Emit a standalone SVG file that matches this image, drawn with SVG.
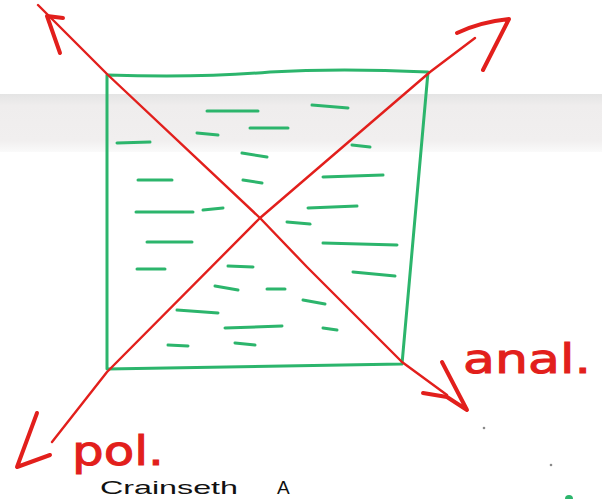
<svg xmlns="http://www.w3.org/2000/svg" width="602" height="499" viewBox="0 0 602 499">
  <defs>
    <linearGradient id="band" x1="0" y1="0" x2="0" y2="1">
      <stop offset="0" stop-color="#e4e4e4"/>
      <stop offset="0.2" stop-color="#efeded"/>
      <stop offset="0.8" stop-color="#f1efef"/>
      <stop offset="1" stop-color="#fafafa"/>
    </linearGradient>
    <style>
      .grn { fill: none; stroke: #2cb56c; stroke-width: 3; stroke-linecap: round; stroke-linejoin: round; }
      .dash { fill: none; stroke: #2cb56c; stroke-width: 3; stroke-linecap: round; }
      .red { fill: none; stroke: #e21f1c; stroke-width: 2.4; stroke-linecap: round; stroke-linejoin: round; }
      .head { fill: none; stroke: #e21f1c; stroke-width: 4; stroke-linecap: round; stroke-linejoin: round; }
      .lbl { font-family: "DejaVu Sans", "Liberation Sans", sans-serif; fill: #e21f1c; stroke: #e21f1c; stroke-width: 1; }
      .ink { font-family: "Liberation Sans", sans-serif; fill: #111; }
      .dot { fill: #8a8a8a; }
    </style>
  </defs>
  <rect x="0" y="0" width="602" height="499" fill="#ffffff"/>
  <rect x="0" y="94" width="602" height="58" fill="url(#band)"/>

  <g id="square">
    <path class="grn" d="M107,75 Q200,78 270,72 Q340,68 428,72 L402,364 Q250,366 107,369 Z"/>
    <g id="dashes">
      <path class="dash" d="M207,111 L258,111"/>
      <path class="dash" d="M312,105 L348,108"/>
      <path class="dash" d="M250,128 L288,128"/>
      <path class="dash" d="M197,133 L218,135"/>
      <path class="dash" d="M117,143 L150,142"/>
      <path class="dash" d="M352,145 L370,147"/>
      <path class="dash" d="M242,153 L267,157"/>
      <path class="dash" d="M138,180 L172,180"/>
      <path class="dash" d="M243,180 L262,183"/>
      <path class="dash" d="M323,177 L383,175"/>
      <path class="dash" d="M136,212 L193,212"/>
      <path class="dash" d="M203,210 L223,208"/>
      <path class="dash" d="M308,208 L357,206"/>
      <path class="dash" d="M287,222 L310,224"/>
      <path class="dash" d="M147,242 L192,242"/>
      <path class="dash" d="M323,243 L397,245"/>
      <path class="dash" d="M137,269 L165,269"/>
      <path class="dash" d="M228,266 L253,267"/>
      <path class="dash" d="M353,272 L395,276"/>
      <path class="dash" d="M215,286 L238,290"/>
      <path class="dash" d="M267,289 L285,289"/>
      <path class="dash" d="M303,300 L325,304"/>
      <path class="dash" d="M177,310 L218,313"/>
      <path class="dash" d="M225,328 L282,326"/>
      <path class="dash" d="M323,328 L337,330"/>
      <path class="dash" d="M168,345 L188,346"/>
      <path class="dash" d="M235,343 L255,345"/>
    </g>
  </g>

  <g id="connectors">
    <path class="red" d="M38,5 L108,75 L260,218 L307,267 L402,362 L447,395"/>
    <path class="red" d="M475,38 L430,72 L260,218 L107,372 L52,442"/>
    <path class="head" d="M63,18 L47,16 L60,53"/>
    <path class="head" d="M457,33 Q480,22 509,19 L483,70"/>
    <path class="head" d="M442,362 L467,410 L447,397 L423,393"/>
    <path class="head" d="M37,413 L17,467 L50,455"/>
  </g>

  <g id="labels">
    <text class="lbl" x="72" y="465" font-size="40" textLength="92" lengthAdjust="spacingAndGlyphs">pol.</text>
    <text class="lbl" x="463" y="373" font-size="40" textLength="128" lengthAdjust="spacingAndGlyphs">anal.</text>
    <text class="ink" x="100" y="494" font-size="19" textLength="138" lengthAdjust="spacingAndGlyphs">Crainseth</text>
    <text class="ink" x="277" y="494" font-size="19">A</text>
  </g>

  <g id="specks">
    <circle class="dot" cx="484" cy="428" r="1.3"/>
    <circle class="dot" cx="551" cy="465" r="1.3"/>
    <circle cx="569" cy="499" r="4" fill="#2cb56c"/>
  </g>
</svg>
